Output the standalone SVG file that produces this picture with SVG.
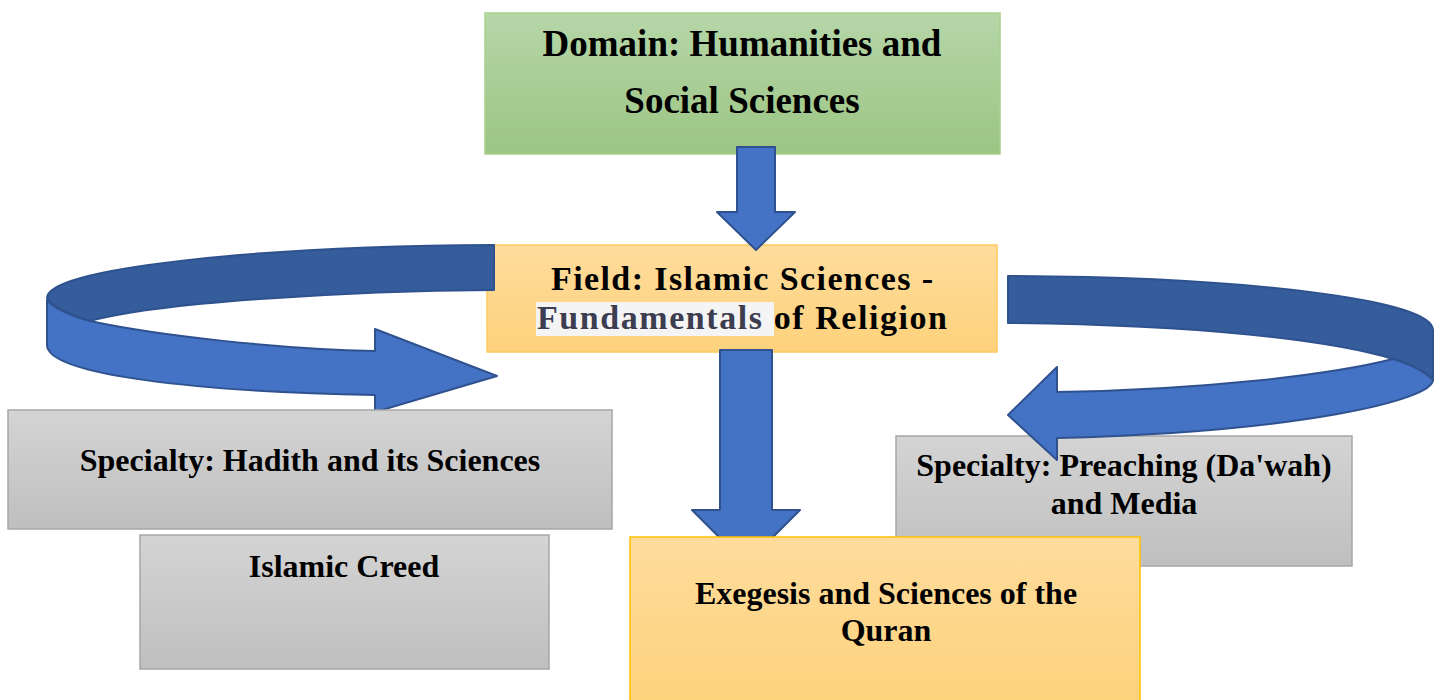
<svg xmlns="http://www.w3.org/2000/svg" width="1443" height="700" viewBox="0 0 1443 700">
<style>
.t{font-family:"Liberation Serif","Times New Roman",serif;font-weight:bold;fill:#000;text-anchor:middle}
.gray{fill:url(#gGray);stroke:#a6a6a6;stroke-width:1.5}
.org{stroke:#ffc000;stroke-width:1.5}
.blue{fill:#4472c4;stroke:#2f528f;stroke-width:2;stroke-linejoin:round}
.dark{fill:#355c9b;stroke:#2f528f;stroke-width:2;stroke-linejoin:round}
</style>
<defs>
<linearGradient id="gGray" x1="0" y1="0" x2="0" y2="1"><stop offset="0" stop-color="#d4d4d4"/><stop offset="1" stop-color="#bfbfbf"/></linearGradient>
<linearGradient id="gGreen" x1="0" y1="0" x2="0" y2="1"><stop offset="0" stop-color="#b6d6a8"/><stop offset="1" stop-color="#9cc584"/></linearGradient>
<linearGradient id="gOrg" x1="0" y1="0" x2="0" y2="1"><stop offset="0" stop-color="#fedc9c"/><stop offset="1" stop-color="#fed27c"/></linearGradient>
</defs>
<rect width="1443" height="700" fill="#fff"/>
<g id="preaching">
<rect class="gray" x="896" y="436" width="456" height="130"/>
<text class="t" font-size="32" x="1124" y="476">Specialty: Preaching (Da'wah)</text>
<text class="t" font-size="32" x="1124" y="514">and Media</text>
</g>
<g id="field">
<rect x="487" y="245" width="510" height="107" fill="url(#gOrg)" stroke="#fdca5c" stroke-width="1.5"/>
<rect x="536" y="302" width="238" height="34" fill="#f4f4f4"/>
<text class="t" font-size="34" x="742" y="290" textLength="382" lengthAdjust="spacing">Field: Islamic Sciences -</text>
<text class="t" font-size="34" x="742" y="329" textLength="410" lengthAdjust="spacing"><tspan fill="#3c3d50">Fundamentals</tspan> of Religion</text>
</g>
<g id="domain">
<rect x="485" y="13" width="515" height="141" fill="url(#gGreen)" stroke="#a9d18e" stroke-width="1.5"/>
<text class="t" font-size="37" x="742" y="56">Domain: Humanities and</text>
<text class="t" font-size="37" x="742" y="113">Social Sciences</text>
</g>
<g id="connectors">
<path class="blue" d="M737,147 L775,147 L775,212 L795,212 L756,250 L717,212 L737,212 Z"/>
<path class="blue" d="M720,350 L772,350 L772,510 L800,510 L746,564 L692,510 L720,510 Z"/>
<path class="dark" d="M494,245 C260,246 47,268 47,298 C55,309 72,316 90,321 C160,302 350,291 494,290 Z"/>
<path class="blue" d="M47,300 C55,309 72,316 90,321 C160,336 280,349 375,351 L375,329 L497,376 L375,412 L375,395 C200,392 47,375 47,345 Z"/>
<path class="dark" d="M1008,276 C1250,277 1433,300 1433,330 L1433,380 C1425,372 1410,364 1393,359 C1330,340 1200,325 1008,323 Z"/>
<path class="blue" d="M1393,359 C1410,364 1425,372 1433,380 C1433,400 1300,432 1057,438 L1057,460 L1008,415 L1057,367 L1057,392 C1200,390 1330,375 1393,359 Z"/>
</g>
<g id="hadith">
<rect class="gray" x="8" y="410" width="604" height="119"/>
<text class="t" font-size="32" x="310" y="471">Specialty: Hadith and its Sciences</text>
</g>
<g id="creed">
<rect class="gray" x="140" y="535" width="409" height="134"/>
<text class="t" font-size="32" x="344" y="577">Islamic Creed</text>
</g>
<g id="exegesis">
<rect class="org" x="630" y="537" width="510" height="170" fill="url(#gOrg)"/>
<text class="t" font-size="32" x="886" y="604">Exegesis and Sciences of the</text>
<text class="t" font-size="32" x="886" y="641">Quran</text>
</g>
</svg>
